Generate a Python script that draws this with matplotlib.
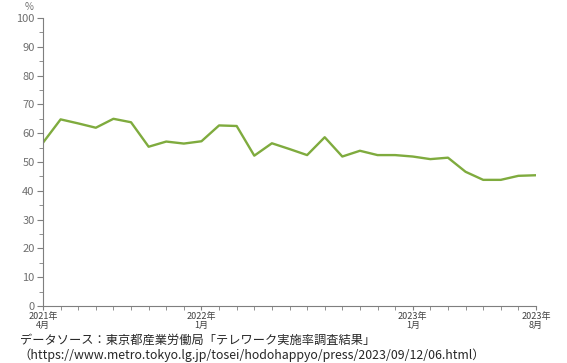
import matplotlib.pyplot as plt
from matplotlib.ticker import MultipleLocator

plt.rcParams['font.family'] = ['Noto Sans CJK JP', 'DejaVu Sans']

# monthly telework rate, 2021-04 .. 2023-08
months = list(range(29))
rates = [56.7, 64.8, 63.4, 61.9, 65.0, 63.8, 55.3, 57.1, 56.4, 57.2,
         62.7, 62.5, 52.2, 56.5, 54.5, 52.4, 58.6, 51.9, 53.9, 52.4,
         52.4, 51.9, 51.0, 51.5, 46.6, 43.8, 43.8, 45.2, 45.4]
tick_pos = [0, 9, 21, 28]
tick_labels = ["2021年\n4月", "2022年\n1月", "2023年\n1月", "2023年\n8月"]

W, H = 567, 363
fig = plt.figure(figsize=(W / 100, H / 100), dpi=100)
ax = fig.add_axes([43 / W, 1 - 306 / H, (536 - 43) / W, (306 - 18) / H])

ax.plot(months, rates, color="#7fab3e", lw=1.7, solid_joinstyle="round")

ax.set_xlim(0, 28)
ax.set_ylim(0, 100)
ax.yaxis.set_major_locator(MultipleLocator(10))
ax.yaxis.set_minor_locator(MultipleLocator(5))
ax.set_xticks(months, minor=True)
ax.set_xticks(tick_pos)
ax.set_xticklabels(tick_labels, linespacing=1.0)

for s in ["top", "right"]:
    ax.spines[s].set_visible(False)
for s in ["left", "bottom"]:
    ax.spines[s].set_color("#7f7f7f")
    ax.spines[s].set_linewidth(0.8)

ax.tick_params(axis="y", which="major", length=4, color="#7f7f7f", labelsize=8, labelcolor="#6f6f6f", pad=2)
ax.tick_params(axis="y", which="minor", length=3, color="#7f7f7f")
ax.tick_params(axis="x", which="both", length=3, color="#7f7f7f", labelsize=6.5, labelcolor="#404040", pad=1)

fig.text(29 / W, 1 - 7 / H, "%", fontsize=7, color="#6f6f6f", ha="center", va="center")

fig.text(20 / W, 1 - 340 / H, "データソース：東京都産業労働局「テレワーク実施率調査結果」",
         fontsize=8.8, color="#262626", ha="left", va="center")
fig.text(18 / W, 1 - 355 / H, "（https://www.metro.tokyo.lg.jp/tosei/hodohappyo/press/2023/09/12/06.html）",
         fontsize=8.9, color="#262626", ha="left", va="center")

fig.savefig("out.png", dpi=100)
